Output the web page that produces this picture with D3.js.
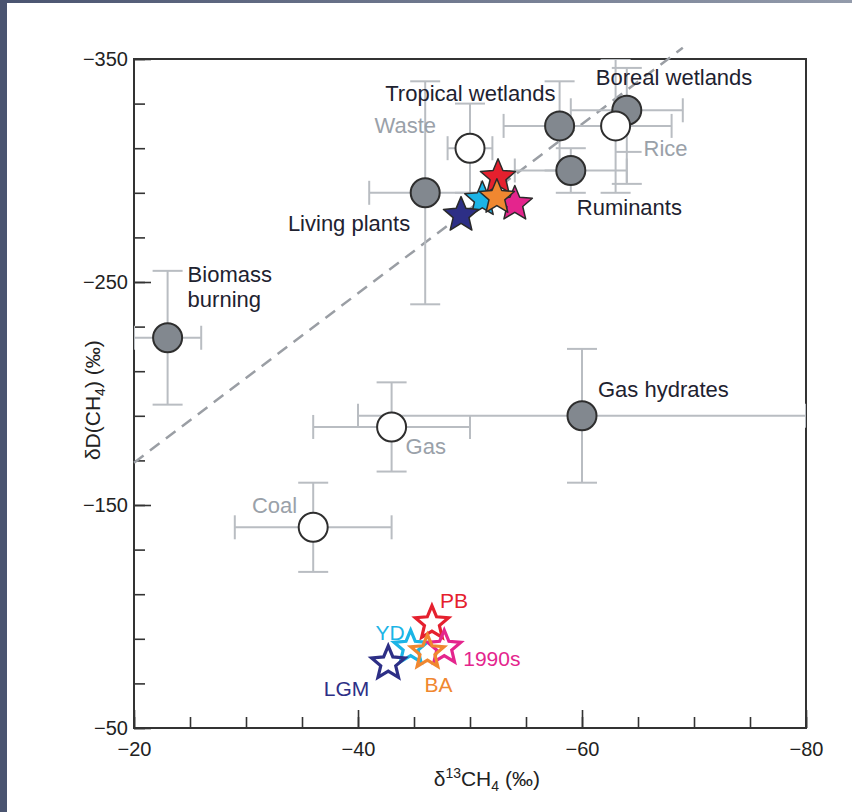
<!DOCTYPE html>
<html>
<head>
<meta charset="utf-8">
<script src="https://cdn.jsdelivr.net/npm/d3@7"></script>
<style>
  body { margin: 0; background: #fff; }
  svg { display: block; font-family: "Liberation Sans", Arial, sans-serif; }
</style>
</head>
<body>
<div id="chart"></div>
<script>
// source signatures (filled = biogenic/pyrogenic, open = fossil / anthropogenic)
var sources = ["Biomass burning", "Living plants", "Waste", "Tropical wetlands", "Boreal wetlands",
               "Rice", "Ruminants", "Gas hydrates", "Gas", "Coal"];
var sourceC13 = [-23, -46, -50, -58, -64, -63, -59, -60, -43, -36];
var sourceD = [-225, -290, -310, -320, -327, -320, -300, -190, -185, -140];
var c13Err = [3, 5, 2, 5, 5, 5, 5, 20, 7, 7];
var dErrUp = [30, 50, 20, 20, 19, 30, 10, 30, 20, 20];
var dErrDown = [30, 50, 20, 20, 33, 30, 10, 30, 20, 20];
var sourceOpen = [false, false, true, false, false, true, false, false, true, true];

// time periods: atmosphere (open stars) and inferred mean source (filled stars)
var periods = ["PB", "YD", "LGM", "1990s", "BA"];
var atmC13 = [-46.6, -44.7, -42.7, -47.7, -46.2];
var atmD = [-97, -86, -79, -86, -84];
var srcC13 = [-52.5, -51.1, -49.2, -54.0, -52.4];
var srcD = [-297, -287, -280, -285, -288];

// dashed line
var lineC13 = [-20, -69];
var lineD = [-169, -355];

var xTicks = d3.range(-20, -81, -5);
var xMajor = [-20, -40, -60, -80];
var yTicks = d3.range(-350, -49, 20);
var yMajor = [-350, -250, -150, -50];

var periodColor = { "PB": "#e5202e", "YD": "#1bb4e6", "LGM": "#2d2f86", "1990s": "#e4258d", "BA": "#f08730" };

// label placement, in pixels from the point
var srcLabel = {
  "Biomass burning": { dx: 20, dy: -56, anchor: "start", lines: ["Biomass", "burning"] },
  "Living plants": { dx: -15, dy: 38, anchor: "end" },
  "Waste": { dx: -34, dy: -15, anchor: "end" },
  "Tropical wetlands": { dx: -4, dy: -25, anchor: "end" },
  "Boreal wetlands": { dx: -31, dy: -25, anchor: "start" },
  "Rice": { dx: 28, dy: 30, anchor: "start", leader: true },
  "Ruminants": { dx: 6, dy: 44, anchor: "start" },
  "Gas hydrates": { dx: 16, dy: -19, anchor: "start" },
  "Gas": { dx: 14, dy: 27, anchor: "start" },
  "Coal": { dx: -16, dy: -14, anchor: "end" }
};
var periodLabel = {
  "PB": { dx: 8, dy: -15, anchor: "start" },
  "YD": { dx: -6, dy: -8, anchor: "end" },
  "LGM": { dx: -19, dy: 33, anchor: "end" },
  "1990s": { dx: 19, dy: 18, anchor: "start" },
  "BA": { dx: -3, dy: 40, anchor: "start" }
};

var svgWidth = 852;
var svgHeight = 812;
var margin = { top: 59, right: 46, bottom: 84, left: 134 };
var width = svgWidth - margin.left - margin.right;
var height = svgHeight - margin.top - margin.bottom;

var svg = d3.select("#chart")
  .append("svg")
  .attr("width", svgWidth)
  .attr("height", svgHeight);

// slide frame
var grad = svg.append("defs").append("linearGradient").attr("id", "topbar");
grad.append("stop").attr("offset", "0%").attr("stop-color", "#4a5470");
grad.append("stop").attr("offset", "100%").attr("stop-color", "#939bab");
svg.append("rect").attr("x", 0).attr("y", 0).attr("width", svgWidth).attr("height", 3).attr("fill", "url(#topbar)");
svg.append("rect").attr("x", 0).attr("y", 0).attr("width", 7).attr("height", svgHeight).attr("fill", "#4a5470");

svg.select("defs").append("clipPath").attr("id", "plotclip")
  .append("rect").attr("x", 0).attr("y", 0).attr("width", width).attr("height", height);

var chart = svg.append("g").attr("transform", `translate(${margin.left}, ${margin.top})`);

var x = d3.scaleLinear().domain([-20, -80]).range([0, width]);
var y = d3.scaleLinear().domain([-350, -50]).range([0, height]);

var fmt = function(d) { return d3.format("d")(d).replace("-", "\u2013"); };

// axes with inward ticks
chart.append("g").attr("class", "axis")
  .attr("transform", `translate(0, ${height})`)
  .call(d3.axisBottom(x).tickValues(xTicks).tickSize(-11).tickFormat(""));
chart.append("g").attr("class", "axis")
  .attr("transform", `translate(0, ${height})`)
  .call(d3.axisBottom(x).tickValues(xMajor).tickSize(-18).tickPadding(14).tickFormat(fmt));
chart.append("g").attr("class", "axis")
  .call(d3.axisLeft(y).tickValues(yTicks).tickSize(-11).tickFormat(""));
chart.append("g").attr("class", "axis")
  .call(d3.axisLeft(y).tickValues(yMajor).tickSize(-17).tickPadding(6).tickFormat(fmt));

chart.selectAll(".axis .domain").remove();
chart.selectAll(".axis line").attr("stroke", "#333").attr("stroke-width", 1.6);
chart.selectAll(".axis text").attr("font-size", 20).attr("fill", "#222").attr("font-family", "Liberation Sans, Arial, sans-serif");

chart.append("rect")
  .attr("width", width).attr("height", height)
  .attr("fill", "none").attr("stroke", "#333").attr("stroke-width", 2);

// axis titles
var xt = chart.append("text")
  .attr("x", x(-51.5)).attr("y", height + 58)
  .attr("text-anchor", "middle").attr("font-size", 21).attr("fill", "#222");
xt.append("tspan").text("\u03b4");
xt.append("tspan").attr("font-size", 14).attr("dy", -8).text("13");
xt.append("tspan").attr("dy", 8).text("CH");
xt.append("tspan").attr("font-size", 14).attr("dy", 5).text("4");
xt.append("tspan").attr("dy", -5).text(" (\u2030)");

var yt = chart.append("text")
  .attr("transform", `translate(${-34}, ${y(-197)}) rotate(-90)`)
  .attr("text-anchor", "middle").attr("font-size", 21).attr("fill", "#222");
yt.append("tspan").text("\u03b4D(CH");
yt.append("tspan").attr("font-size", 14).attr("dy", 5).text("4");
yt.append("tspan").attr("dy", -5).text(") (\u2030)");

// dashed line
chart.append("line")
  .attr("x1", x(lineC13[0])).attr("y1", y(lineD[0]))
  .attr("x2", x(lineC13[1])).attr("y2", y(lineD[1]))
  .attr("stroke", "#9a9ea4").attr("stroke-width", 2.5)
  .attr("stroke-dasharray", "12,8");

// error bars
var errG = chart.append("g").attr("clip-path", "url(#plotclip)")
  .attr("stroke", "#b9bdc2").attr("stroke-width", 2).attr("fill", "none");
var capV = 12, capH = 15;
sources.forEach(function(s, i) {
  var cx = x(sourceC13[i]), cy = y(sourceD[i]);
  var xl = x(sourceC13[i] + c13Err[i]), xr = x(sourceC13[i] - c13Err[i]);
  var yu = y(sourceD[i] - dErrUp[i]), yd = y(sourceD[i] + dErrDown[i]);
  errG.append("line").attr("x1", xl).attr("x2", xr).attr("y1", cy).attr("y2", cy);
  errG.append("line").attr("x1", xl).attr("x2", xl).attr("y1", cy - capV).attr("y2", cy + capV);
  errG.append("line").attr("x1", xr).attr("x2", xr).attr("y1", cy - capV).attr("y2", cy + capV);
  errG.append("line").attr("x1", cx).attr("x2", cx).attr("y1", yu).attr("y2", yd);
  errG.append("line").attr("x1", cx - capH).attr("x2", cx + capH).attr("y1", yu).attr("y2", yu);
  errG.append("line").attr("x1", cx - capH).attr("x2", cx + capH).attr("y1", yd).attr("y2", yd);
});

// source circles
chart.selectAll("circle.src")
  .data(sources)
  .enter()
  .append("circle")
  .attr("class", "src")
  .attr("cx", (d, i) => x(sourceC13[i]))
  .attr("cy", (d, i) => y(sourceD[i]))
  .attr("r", 14.5)
  .attr("fill", (d, i) => sourceOpen[i] ? "#fff" : "#82888f")
  .attr("stroke", "#2e2e2e")
  .attr("stroke-width", 2);

// source labels
sources.forEach(function(s, i) {
  var L = srcLabel[s];
  var px = x(sourceC13[i]) + L.dx, py = y(sourceD[i]) + L.dy;
  var t = chart.append("text")
    .attr("x", px).attr("y", py)
    .attr("text-anchor", L.anchor)
    .attr("font-size", 22)
    .attr("fill", sourceOpen[i] ? "#9aa1a9" : "#1e2230");
  var lines = L.lines || [s];
  lines.forEach(function(l, k) {
    t.append("tspan").attr("x", px).attr("dy", k === 0 ? 0 : 25).text(l);
  });
  if (L.leader) {
    chart.append("line")
      .attr("x1", x(sourceC13[i])).attr("x2", px - 2)
      .attr("y1", py - 4).attr("y2", py - 4)
      .attr("stroke", "#b9bdc2").attr("stroke-width", 2);
  }
});

// star path
function starPath(R, ratio) {
  var pts = [];
  for (var k = 0; k < 10; k++) {
    var r = k % 2 === 0 ? R : R * ratio;
    var a = -Math.PI / 2 + k * Math.PI / 5;
    pts.push([r * Math.cos(a), r * Math.sin(a)]);
  }
  return "M" + pts.map(p => p[0].toFixed(2) + "," + p[1].toFixed(2)).join("L") + "Z";
}

// filled stars (source)
chart.selectAll("path.srcstar")
  .data(periods)
  .enter()
  .append("path")
  .attr("class", "srcstar")
  .attr("d", starPath(18.5, 0.45))
  .attr("transform", (d, i) => `translate(${x(srcC13[i])}, ${y(srcD[i])})`)
  .attr("fill", d => periodColor[d])
  .attr("stroke", "#2a2a2a")
  .attr("stroke-width", 1.5)
  .attr("stroke-linejoin", "round");

// open stars (atmosphere)
chart.selectAll("path.atmstar")
  .data(periods)
  .enter()
  .append("path")
  .attr("class", "atmstar")
  .attr("d", starPath(17.5, 0.45))
  .attr("transform", (d, i) => `translate(${x(atmC13[i])}, ${y(atmD[i])})`)
  .attr("fill", "none")
  .attr("stroke", d => periodColor[d])
  .attr("stroke-width", 3.2)
  .attr("stroke-linejoin", "miter");

periods.forEach(function(p, i) {
  var L = periodLabel[p];
  chart.append("text")
    .attr("x", x(atmC13[i]) + L.dx)
    .attr("y", y(atmD[i]) + L.dy)
    .attr("text-anchor", L.anchor)
    .attr("font-size", 21)
    .attr("fill", periodColor[p])
    .text(p);
});
</script>
</body>
</html>
